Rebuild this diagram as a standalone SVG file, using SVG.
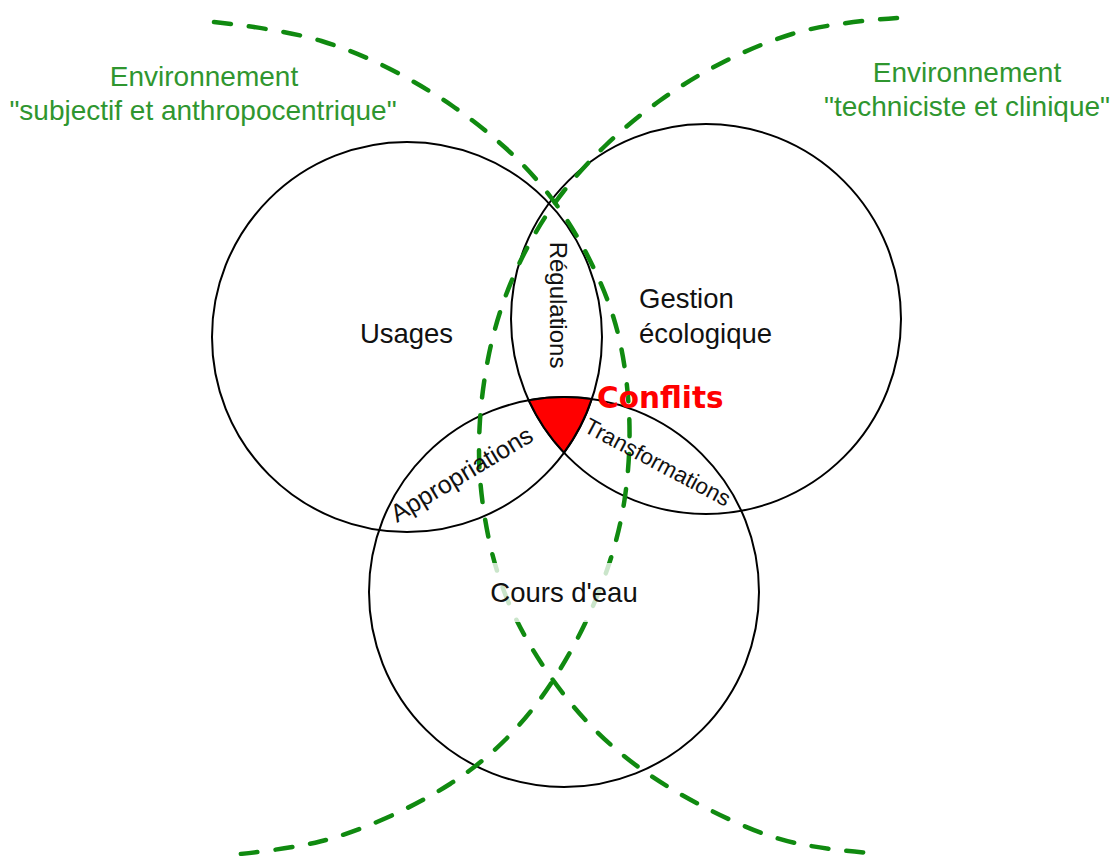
<svg xmlns="http://www.w3.org/2000/svg" width="1114" height="856" viewBox="0 0 1114 856">
  <style>
    .circ { fill: none; stroke: #000; stroke-width: 2; }
    .lbl { font-family: "Liberation Sans", Arial, sans-serif; fill: #111; }
    .big { font-size: 27.5px; }
    .lens { font-size: 24px; }
    .env { font-family: "Liberation Sans", Arial, sans-serif; font-size: 28px; fill: #2f962f; text-anchor: middle; }
    .dash { fill: none; stroke: #108a10; stroke-width: 4.5; stroke-linecap: round; stroke-dasharray: 17 18; }
  </style>
  <rect width="1114" height="856" fill="#fff"/>

  <g id="node-usages">
    <circle class="circ" cx="407" cy="337" r="195"/>
    <text class="lbl big" x="406.5" y="343" text-anchor="middle">Usages</text>
  </g>
  <g id="node-gestion">
    <circle class="circ" cx="706" cy="319" r="195"/>
    <text class="lbl big" x="639" y="308">Gestion</text>
    <text class="lbl big" x="639" y="343">écologique</text>
  </g>
  <g id="node-cours">
    <circle class="circ" cx="564" cy="592" r="195"/>
  </g>

  <g id="node-conflits-zone">
    <path d="M528.8,400.3 A195,195 0 0 1 591.7,399.1 A195,195 0 0 1 564,452.6 A195,195 0 0 1 528.8,400.3 Z" fill="#ff0000" stroke="#000" stroke-width="2"/>
  </g>

  <g id="connectors">
    <path class="dash" d="M214,22 Q286,30 321.5,41 Q357,52 391,69.5 Q425,87 452.5,106 Q480,125 505,147.5 Q530,170 551,197.5 Q572,225 588.5,257.5 Q605,290 613.5,317.5 Q622,345 626,377.5 Q630,410 629.5,440 Q629,470 624.5,500 Q620,530 610,561 Q600,592 585,623.5 Q570,655 550,685 Q530,715 505,740 Q480,765 450,784 Q420,803 385,818.5 Q350,834 320,841.5 Q290,849 230,855"/>
    <path class="dash" d="M897,18 Q827,23 792,34 Q757,45 723.5,62 Q690,79 660,100.5 Q630,122 606,145 Q582,168 563.5,191.5 Q545,215 530,242.5 Q515,270 504.5,299 Q494,328 488,359 Q482,390 480,420 Q478,450 480,477.5 Q482,505 488,535 Q494,565 504.5,592.5 Q515,620 531.5,647.5 Q548,675 569,701 Q590,727 615,748.5 Q640,770 670,788 Q700,806 735,822 Q770,838 800,844 Q830,850 871,853"/>
  </g>

  <g id="node-cours-label">
    <rect x="462" y="563" width="215" height="59" fill="#fff" fill-opacity="0.78"/>
    <text class="lbl big" x="564" y="602" text-anchor="middle">Cours d'eau</text>
  </g>

  <g id="node-regulations">
    <text class="lbl lens" transform="translate(550,305) rotate(90)" text-anchor="middle">Régulations</text>
  </g>
  <g id="node-appropriations">
    <text class="lbl" font-size="25" transform="translate(466,481.5) rotate(-31)" text-anchor="middle">Appropriations</text>
  </g>
  <g id="node-transformations">
    <text class="lbl" font-size="22.5" transform="translate(654,469) rotate(28)" text-anchor="middle">Transformations</text>
  </g>
  <g id="node-conflits">
    <text x="597" y="408" font-family="'DejaVu Sans', sans-serif" font-weight="bold" font-size="29.5" fill="#ff0000">Conflits</text>
  </g>

  <g id="node-env-subjectif">
    <text class="env" x="204" y="86">Environnement</text>
    <text class="env" x="203" y="120">"subjectif et anthropocentrique"</text>
  </g>
  <g id="node-env-techniciste">
    <text class="env" x="967" y="82">Environnement</text>
    <text class="env" x="967" y="116">"techniciste et clinique"</text>
  </g>
</svg>
